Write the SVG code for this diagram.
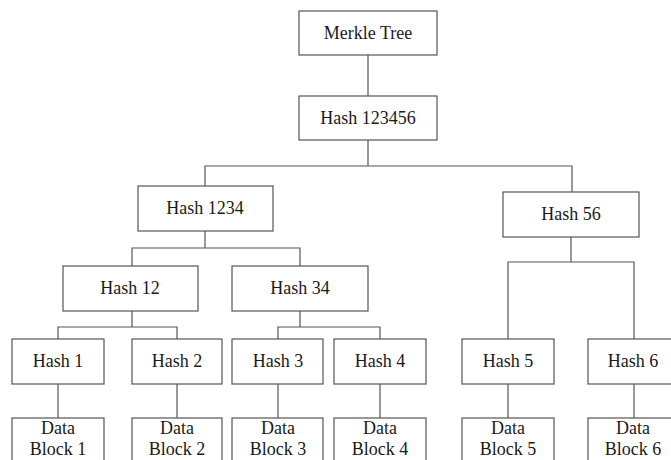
<svg xmlns="http://www.w3.org/2000/svg" width="671" height="460" viewBox="0 0 671 460">
<style>
.box{fill:#fff;stroke:#555;stroke-width:1.2}
.c{fill:none;stroke:#555;stroke-width:1.2}
text{font-family:"Liberation Serif","Times New Roman",serif;font-size:18px;fill:#1a1a1a;text-anchor:middle}
</style>
<rect width="671" height="460" fill="#fff"/>
<g id="connectors">
<path class="c" d="M368 55V96"/>
<path class="c" d="M368 140V166H205V186M368 166H572V192"/>
<path class="c" d="M205 231V248H132V266M205 248H300V266"/>
<path class="c" d="M571 237V262H508V339M571 262H634V339"/>
<path class="c" d="M132 311V327H58V339M132 327H177V339"/>
<path class="c" d="M300 311V327H278V339M300 327H380V339"/>
<path class="c" d="M58 384V418M177 384V418M278 384V418M380 384V418M508 384V418M634 384V418"/>
</g>
<g id="merkle-tree"><rect class="box" x="299" y="11" width="138" height="44"/><text x="368" y="39">Merkle Tree</text></g>
<g id="hash-123456"><rect class="box" x="299" y="96" width="138" height="44"/><text x="368" y="124">Hash 123456</text></g>
<g id="hash-1234"><rect class="box" x="138" y="186" width="135" height="45"/><text x="205" y="214">Hash 1234</text></g>
<g id="hash-56"><rect class="box" x="503" y="192" width="136" height="45"/><text x="571" y="220">Hash 56</text></g>
<g id="hash-12"><rect class="box" x="63" y="266" width="135" height="45"/><text x="130" y="294">Hash 12</text></g>
<g id="hash-34"><rect class="box" x="232" y="266" width="136" height="45"/><text x="300" y="294">Hash 34</text></g>
<g id="hash-1"><rect class="box" x="12" y="339" width="92" height="45"/><text x="58" y="367">Hash 1</text></g>
<g id="hash-2"><rect class="box" x="132" y="339" width="90" height="45"/><text x="177" y="367">Hash 2</text></g>
<g id="hash-3"><rect class="box" x="232" y="339" width="91" height="45"/><text x="278" y="367">Hash 3</text></g>
<g id="hash-4"><rect class="box" x="334" y="339" width="92" height="45"/><text x="380" y="367">Hash 4</text></g>
<g id="hash-5"><rect class="box" x="462" y="339" width="92" height="45"/><text x="508" y="367">Hash 5</text></g>
<g id="hash-6"><rect class="box" x="588" y="339" width="92" height="45"/><text x="633" y="367">Hash 6</text></g>
<g id="data-1"><rect class="box" x="12" y="418" width="92" height="50"/><text x="58" y="434">Data</text><text x="58" y="455">Block 1</text></g>
<g id="data-2"><rect class="box" x="132" y="418" width="90" height="50"/><text x="177" y="434">Data</text><text x="177" y="455">Block 2</text></g>
<g id="data-3"><rect class="box" x="232" y="418" width="91" height="50"/><text x="278" y="434">Data</text><text x="278" y="455">Block 3</text></g>
<g id="data-4"><rect class="box" x="334" y="418" width="92" height="50"/><text x="380" y="434">Data</text><text x="380" y="455">Block 4</text></g>
<g id="data-5"><rect class="box" x="462" y="418" width="92" height="50"/><text x="508" y="434">Data</text><text x="508" y="455">Block 5</text></g>
<g id="data-6"><rect class="box" x="588" y="418" width="92" height="50"/><text x="633" y="434">Data</text><text x="633" y="455">Block 6</text></g>
</svg>
